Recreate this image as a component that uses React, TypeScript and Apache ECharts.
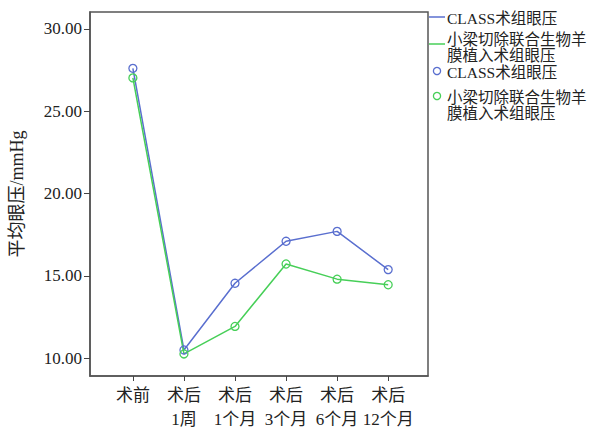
import React, { useEffect, useRef } from "react";
import * as echarts from "echarts";

const categories = ["术前", "术后\n1周", "术后\n1个月", "术后\n3个月", "术后\n6个月", "术后\n12个月"];
const classValues = [27.6, 10.5, 14.55, 17.1, 17.7, 15.38];
const trabValues = [27.02, 10.26, 11.93, 15.72, 14.8, 14.46];
const yTicks = [10, 15, 20, 25, 30];
const seriesNames = ["CLASS术组眼压", "小梁切除联合生物羊\n膜植入术组眼压"];

const BLUE = "#5a6fcf";
const GREEN = "#47cf58";
const FONT = "'Liberation Serif', 'Noto Sans CJK SC', serif";

export default function App() {
  const ref = useRef<HTMLDivElement>(null);
  useEffect(() => {
    if (!ref.current) return;
    const chart = echarts.init(ref.current, null, { renderer: "svg" });
    const xIdx = categories.map((_, i) => i);
    const mkSeries = (name: string, vals: number[], color: string) => ({
      type: "line",
      name,
      data: vals.map((v, i) => [i, v]),
      symbol: "circle",
      symbolSize: 8,
      showSymbol: true,
      lineStyle: { color, width: 1.5 },
      itemStyle: { color: "rgba(255,255,255,0)", borderColor: color, borderWidth: 1.3 },
      z: 3,
    });
    const legendText = (x: number, y: number, text: string) => ({
      type: "text",
      x,
      y,
      style: { text, font: `15.5px ${FONT}`, fill: "#222", lineHeight: 16, textVerticalAlign: "middle" },
    });
    chart.setOption({
      animation: false,
      grid: { left: 88, top: 12, right: 166, bottom: 51, show: true, borderColor: "#555", borderWidth: 1.5 },
      xAxis: {
        type: "value",
        min: -0.84,
        max: 5.78,
        splitLine: { show: false },
        axisLine: { show: true, onZero: false, lineStyle: { color: "#555", width: 1.5 } },
        axisTick: { show: true, length: 5, customValues: xIdx, lineStyle: { color: "#444" } },
        axisLabel: {
          customValues: xIdx,
          formatter: (v: number) => categories[Math.round(v)] ?? "",
          fontFamily: FONT,
          fontSize: 17,
          lineHeight: 24,
          color: "#222",
          margin: 7,
          verticalAlign: "top",
        },
      },
      yAxis: {
        type: "value",
        min: 8.92,
        max: 31.02,
        name: "平均眼压/mmHg",
        nameLocation: "middle",
        nameGap: 64,
        nameRotate: 90,
        nameTextStyle: { fontFamily: FONT, fontSize: 18, color: "#222" },
        splitLine: { show: false },
        axisLine: { show: true, onZero: false, lineStyle: { color: "#555", width: 1.5 } },
        axisTick: { show: true, length: 6, customValues: yTicks, lineStyle: { color: "#444" } },
        axisLabel: {
          customValues: yTicks,
          formatter: (v: number) => v.toFixed(2),
          fontFamily: FONT,
          fontSize: 17,
          color: "#222",
          margin: 8,
        },
      },
      series: [mkSeries(seriesNames[0], classValues, BLUE), mkSeries(seriesNames[1], trabValues, GREEN)],
      graphic: [
        { type: "line", shape: { x1: 429, y1: 17, x2: 445, y2: 17 }, style: { stroke: BLUE, lineWidth: 1.5 } },
        legendText(447, 18, seriesNames[0]),
        { type: "line", shape: { x1: 429, y1: 44, x2: 445, y2: 44 }, style: { stroke: GREEN, lineWidth: 1.5 } },
        legendText(447, 47, seriesNames[1]),
        { type: "circle", shape: { cx: 437, cy: 71, r: 3.6 }, style: { fill: "none", stroke: BLUE, lineWidth: 1.3 } },
        legendText(447, 72, seriesNames[0]),
        { type: "circle", shape: { cx: 437, cy: 96, r: 3.6 }, style: { fill: "none", stroke: GREEN, lineWidth: 1.3 } },
        legendText(447, 105, seriesNames[1]),
      ],
    });
    return () => chart.dispose();
  }, []);
  return <div ref={ref} style={{ width: 594, height: 431, position: "absolute", left: 0, top: 0, background: "#fff" }} />;
}
